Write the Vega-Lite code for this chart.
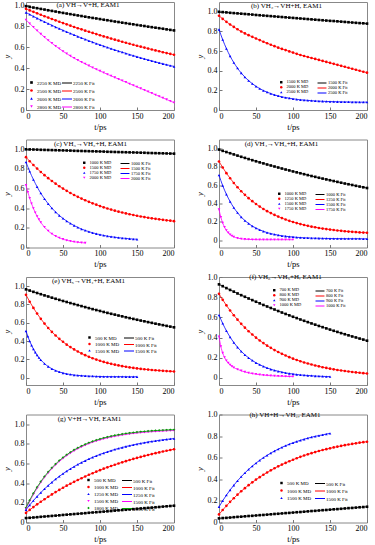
{
"$schema":"https://vega.github.io/schema/vega-lite/v6.json",
"background":"white",
"padding":{"left":1,"top":0,"right":1,"bottom":2},
"bounds":"flush",
"columns":2,
"spacing":{"row":29.5,"column":45},
"config":{
"font":"Liberation Serif",
"view":{"stroke":"#888","strokeWidth":1},
"axis":{"grid":false,"domain":false,"ticks":true,"tickSize":-3,"tickColor":"#777","labelFont":"Liberation Serif","labelFontSize":8,"labelColor":"#000","labelPadding":5,"titleFont":"Liberation Serif","titleFontSize":8.5,"titleFontWeight":"normal","titleColor":"#000"},
"axisX":{"titlePadding":2},
"axisY":{"titlePadding":3,"titleFontStyle":"italic"},
"legend":{"labelFont":"Liberation Serif","labelColor":"#000","padding":0,"labelOffset":3},
"title":{"font":"Liberation Serif","fontSize":7,"fontWeight":"normal","anchor":"middle","frame":"group","offset":-7,"color":"#000"}
},
"resolve":{"scale":{"x":"independent","y":"independent","color":"independent","shape":"independent","stroke":"independent"},"axis":{"x":"independent","y":"independent"},"legend":{"color":"independent","shape":"independent","stroke":"independent"}},
"datasets":{
"a":[
{"s":"2250","t":0,"y":0.990},{"s":"2250","t":5,"y":0.983},{"s":"2250","t":10,"y":0.977},{"s":"2250","t":15,"y":0.971},{"s":"2250","t":20,"y":0.964},{"s":"2250","t":25,"y":0.958},{"s":"2250","t":30,"y":0.951},{"s":"2250","t":35,"y":0.945},{"s":"2250","t":40,"y":0.939},{"s":"2250","t":45,"y":0.932},{"s":"2250","t":50,"y":0.926},{"s":"2250","t":55,"y":0.920},{"s":"2250","t":60,"y":0.914},{"s":"2250","t":65,"y":0.908},{"s":"2250","t":70,"y":0.902},{"s":"2250","t":75,"y":0.896},{"s":"2250","t":80,"y":0.890},{"s":"2250","t":85,"y":0.884},{"s":"2250","t":90,"y":0.878},{"s":"2250","t":95,"y":0.873},{"s":"2250","t":100,"y":0.867},{"s":"2250","t":105,"y":0.861},{"s":"2250","t":110,"y":0.856},{"s":"2250","t":115,"y":0.850},{"s":"2250","t":120,"y":0.844},{"s":"2250","t":125,"y":0.839},{"s":"2250","t":130,"y":0.833},{"s":"2250","t":135,"y":0.828},{"s":"2250","t":140,"y":0.822},{"s":"2250","t":145,"y":0.817},{"s":"2250","t":150,"y":0.811},{"s":"2250","t":155,"y":0.806},{"s":"2250","t":160,"y":0.801},{"s":"2250","t":165,"y":0.795},{"s":"2250","t":170,"y":0.790},{"s":"2250","t":175,"y":0.785},{"s":"2250","t":180,"y":0.780},{"s":"2250","t":185,"y":0.775},{"s":"2250","t":190,"y":0.769},{"s":"2250","t":195,"y":0.764},{"s":"2250","t":200,"y":0.759},
{"s":"2500","t":0,"y":0.965},{"s":"2500","t":5,"y":0.950},{"s":"2500","t":10,"y":0.936},{"s":"2500","t":15,"y":0.922},{"s":"2500","t":20,"y":0.908},{"s":"2500","t":25,"y":0.894},{"s":"2500","t":30,"y":0.881},{"s":"2500","t":35,"y":0.868},{"s":"2500","t":40,"y":0.855},{"s":"2500","t":45,"y":0.842},{"s":"2500","t":50,"y":0.829},{"s":"2500","t":55,"y":0.817},{"s":"2500","t":60,"y":0.804},{"s":"2500","t":65,"y":0.792},{"s":"2500","t":70,"y":0.780},{"s":"2500","t":75,"y":0.769},{"s":"2500","t":80,"y":0.757},{"s":"2500","t":85,"y":0.746},{"s":"2500","t":90,"y":0.735},{"s":"2500","t":95,"y":0.724},{"s":"2500","t":100,"y":0.713},{"s":"2500","t":105,"y":0.702},{"s":"2500","t":110,"y":0.692},{"s":"2500","t":115,"y":0.681},{"s":"2500","t":120,"y":0.671},{"s":"2500","t":125,"y":0.661},{"s":"2500","t":130,"y":0.651},{"s":"2500","t":135,"y":0.641},{"s":"2500","t":140,"y":0.632},{"s":"2500","t":145,"y":0.622},{"s":"2500","t":150,"y":0.613},{"s":"2500","t":155,"y":0.604},{"s":"2500","t":160,"y":0.595},{"s":"2500","t":165,"y":0.586},{"s":"2500","t":170,"y":0.577},{"s":"2500","t":175,"y":0.568},{"s":"2500","t":180,"y":0.560},{"s":"2500","t":185,"y":0.551},{"s":"2500","t":190,"y":0.543},{"s":"2500","t":195,"y":0.535},{"s":"2500","t":200,"y":0.527},
{"s":"2600","t":0,"y":0.930},{"s":"2600","t":5,"y":0.911},{"s":"2600","t":10,"y":0.893},{"s":"2600","t":15,"y":0.875},{"s":"2600","t":20,"y":0.858},{"s":"2600","t":25,"y":0.841},{"s":"2600","t":30,"y":0.824},{"s":"2600","t":35,"y":0.808},{"s":"2600","t":40,"y":0.791},{"s":"2600","t":45,"y":0.776},{"s":"2600","t":50,"y":0.760},{"s":"2600","t":55,"y":0.745},{"s":"2600","t":60,"y":0.730},{"s":"2600","t":65,"y":0.716},{"s":"2600","t":70,"y":0.701},{"s":"2600","t":75,"y":0.687},{"s":"2600","t":80,"y":0.674},{"s":"2600","t":85,"y":0.660},{"s":"2600","t":90,"y":0.647},{"s":"2600","t":95,"y":0.634},{"s":"2600","t":100,"y":0.622},{"s":"2600","t":105,"y":0.609},{"s":"2600","t":110,"y":0.597},{"s":"2600","t":115,"y":0.585},{"s":"2600","t":120,"y":0.573},{"s":"2600","t":125,"y":0.562},{"s":"2600","t":130,"y":0.551},{"s":"2600","t":135,"y":0.540},{"s":"2600","t":140,"y":0.529},{"s":"2600","t":145,"y":0.519},{"s":"2600","t":150,"y":0.508},{"s":"2600","t":155,"y":0.498},{"s":"2600","t":160,"y":0.488},{"s":"2600","t":165,"y":0.478},{"s":"2600","t":170,"y":0.469},{"s":"2600","t":175,"y":0.459},{"s":"2600","t":180,"y":0.450},{"s":"2600","t":185,"y":0.441},{"s":"2600","t":190,"y":0.432},{"s":"2600","t":195,"y":0.424},{"s":"2600","t":200,"y":0.415},
{"s":"2800","t":0,"y":0.860},{"s":"2800","t":5,"y":0.824},{"s":"2800","t":10,"y":0.790},{"s":"2800","t":15,"y":0.757},{"s":"2800","t":20,"y":0.725},{"s":"2800","t":25,"y":0.695},{"s":"2800","t":30,"y":0.665},{"s":"2800","t":35,"y":0.637},{"s":"2800","t":40,"y":0.610},{"s":"2800","t":45,"y":0.585},{"s":"2800","t":50,"y":0.560},{"s":"2800","t":55,"y":0.537},{"s":"2800","t":60,"y":0.515},{"s":"2800","t":65,"y":0.495},{"s":"2800","t":70,"y":0.475},{"s":"2800","t":75,"y":0.457},{"s":"2800","t":80,"y":0.440},{"s":"2800","t":85,"y":0.422},{"s":"2800","t":90,"y":0.405},{"s":"2800","t":95,"y":0.388},{"s":"2800","t":100,"y":0.372},{"s":"2800","t":105,"y":0.356},{"s":"2800","t":110,"y":0.340},{"s":"2800","t":115,"y":0.325},{"s":"2800","t":120,"y":0.310},{"s":"2800","t":125,"y":0.295},{"s":"2800","t":130,"y":0.280},{"s":"2800","t":135,"y":0.265},{"s":"2800","t":140,"y":0.250},{"s":"2800","t":145,"y":0.235},{"s":"2800","t":150,"y":0.220},{"s":"2800","t":155,"y":0.205},{"s":"2800","t":160,"y":0.190},{"s":"2800","t":165,"y":0.175},{"s":"2800","t":170,"y":0.160},{"s":"2800","t":175,"y":0.145},{"s":"2800","t":180,"y":0.130},{"s":"2800","t":185,"y":0.115},{"s":"2800","t":190,"y":0.100},{"s":"2800","t":195,"y":0.085},{"s":"2800","t":200,"y":0.070}
],
"b":[
{"s":"1500","t":0,"y":1.000},{"s":"1500","t":5,"y":0.997},{"s":"1500","t":10,"y":0.994},{"s":"1500","t":15,"y":0.990},{"s":"1500","t":20,"y":0.987},{"s":"1500","t":25,"y":0.984},{"s":"1500","t":30,"y":0.981},{"s":"1500","t":35,"y":0.978},{"s":"1500","t":40,"y":0.975},{"s":"1500","t":45,"y":0.972},{"s":"1500","t":50,"y":0.968},{"s":"1500","t":55,"y":0.965},{"s":"1500","t":60,"y":0.962},{"s":"1500","t":65,"y":0.959},{"s":"1500","t":70,"y":0.956},{"s":"1500","t":75,"y":0.953},{"s":"1500","t":80,"y":0.950},{"s":"1500","t":85,"y":0.947},{"s":"1500","t":90,"y":0.944},{"s":"1500","t":95,"y":0.941},{"s":"1500","t":100,"y":0.938},{"s":"1500","t":105,"y":0.935},{"s":"1500","t":110,"y":0.932},{"s":"1500","t":115,"y":0.929},{"s":"1500","t":120,"y":0.926},{"s":"1500","t":125,"y":0.923},{"s":"1500","t":130,"y":0.920},{"s":"1500","t":135,"y":0.917},{"s":"1500","t":140,"y":0.914},{"s":"1500","t":145,"y":0.911},{"s":"1500","t":150,"y":0.908},{"s":"1500","t":155,"y":0.906},{"s":"1500","t":160,"y":0.903},{"s":"1500","t":165,"y":0.900},{"s":"1500","t":170,"y":0.897},{"s":"1500","t":175,"y":0.894},{"s":"1500","t":180,"y":0.891},{"s":"1500","t":185,"y":0.888},{"s":"1500","t":190,"y":0.885},{"s":"1500","t":195,"y":0.883},{"s":"1500","t":200,"y":0.880},
{"s":"2000","t":0,"y":0.960},{"s":"2000","t":5,"y":0.928},{"s":"2000","t":10,"y":0.898},{"s":"2000","t":15,"y":0.871},{"s":"2000","t":20,"y":0.846},{"s":"2000","t":25,"y":0.822},{"s":"2000","t":30,"y":0.800},{"s":"2000","t":35,"y":0.780},{"s":"2000","t":40,"y":0.762},{"s":"2000","t":45,"y":0.745},{"s":"2000","t":50,"y":0.728},{"s":"2000","t":55,"y":0.712},{"s":"2000","t":60,"y":0.695},{"s":"2000","t":65,"y":0.680},{"s":"2000","t":70,"y":0.665},{"s":"2000","t":75,"y":0.650},{"s":"2000","t":80,"y":0.635},{"s":"2000","t":85,"y":0.622},{"s":"2000","t":90,"y":0.610},{"s":"2000","t":95,"y":0.597},{"s":"2000","t":100,"y":0.585},{"s":"2000","t":105,"y":0.572},{"s":"2000","t":110,"y":0.560},{"s":"2000","t":115,"y":0.550},{"s":"2000","t":120,"y":0.540},{"s":"2000","t":125,"y":0.530},{"s":"2000","t":130,"y":0.520},{"s":"2000","t":135,"y":0.510},{"s":"2000","t":140,"y":0.500},{"s":"2000","t":145,"y":0.490},{"s":"2000","t":150,"y":0.480},{"s":"2000","t":155,"y":0.470},{"s":"2000","t":160,"y":0.460},{"s":"2000","t":165,"y":0.450},{"s":"2000","t":170,"y":0.440},{"s":"2000","t":175,"y":0.430},{"s":"2000","t":180,"y":0.420},{"s":"2000","t":185,"y":0.410},{"s":"2000","t":190,"y":0.400},{"s":"2000","t":195,"y":0.390},{"s":"2000","t":200,"y":0.380},
{"s":"2500","t":0,"y":0.820},{"s":"2500","t":5,"y":0.716},{"s":"2500","t":10,"y":0.626},{"s":"2500","t":15,"y":0.549},{"s":"2500","t":20,"y":0.483},{"s":"2500","t":25,"y":0.426},{"s":"2500","t":30,"y":0.377},{"s":"2500","t":35,"y":0.335},{"s":"2500","t":40,"y":0.299},{"s":"2500","t":45,"y":0.268},{"s":"2500","t":50,"y":0.241},{"s":"2500","t":55,"y":0.218},{"s":"2500","t":60,"y":0.198},{"s":"2500","t":65,"y":0.182},{"s":"2500","t":70,"y":0.167},{"s":"2500","t":75,"y":0.154},{"s":"2500","t":80,"y":0.144},{"s":"2500","t":85,"y":0.134},{"s":"2500","t":90,"y":0.127},{"s":"2500","t":95,"y":0.120},{"s":"2500","t":100,"y":0.114},{"s":"2500","t":105,"y":0.109},{"s":"2500","t":110,"y":0.104},{"s":"2500","t":115,"y":0.101},{"s":"2500","t":120,"y":0.098},{"s":"2500","t":125,"y":0.095},{"s":"2500","t":130,"y":0.092},{"s":"2500","t":135,"y":0.090},{"s":"2500","t":140,"y":0.089},{"s":"2500","t":145,"y":0.087},{"s":"2500","t":150,"y":0.086},{"s":"2500","t":155,"y":0.085},{"s":"2500","t":160,"y":0.084},{"s":"2500","t":165,"y":0.083},{"s":"2500","t":170,"y":0.082},{"s":"2500","t":175,"y":0.082},{"s":"2500","t":180,"y":0.081},{"s":"2500","t":185,"y":0.081},{"s":"2500","t":190,"y":0.080},{"s":"2500","t":195,"y":0.080},{"s":"2500","t":200,"y":0.080}
],
"c":[
{"s":"1000","t":0,"y":1.000},{"s":"1000","t":5,"y":0.999},{"s":"1000","t":10,"y":0.998},{"s":"1000","t":15,"y":0.997},{"s":"1000","t":20,"y":0.995},{"s":"1000","t":25,"y":0.994},{"s":"1000","t":30,"y":0.993},{"s":"1000","t":35,"y":0.992},{"s":"1000","t":40,"y":0.991},{"s":"1000","t":45,"y":0.990},{"s":"1000","t":50,"y":0.989},{"s":"1000","t":55,"y":0.988},{"s":"1000","t":60,"y":0.987},{"s":"1000","t":65,"y":0.985},{"s":"1000","t":70,"y":0.984},{"s":"1000","t":75,"y":0.983},{"s":"1000","t":80,"y":0.982},{"s":"1000","t":85,"y":0.981},{"s":"1000","t":90,"y":0.980},{"s":"1000","t":95,"y":0.979},{"s":"1000","t":100,"y":0.978},{"s":"1000","t":105,"y":0.977},{"s":"1000","t":110,"y":0.975},{"s":"1000","t":115,"y":0.974},{"s":"1000","t":120,"y":0.973},{"s":"1000","t":125,"y":0.972},{"s":"1000","t":130,"y":0.971},{"s":"1000","t":135,"y":0.970},{"s":"1000","t":140,"y":0.969},{"s":"1000","t":145,"y":0.968},{"s":"1000","t":150,"y":0.967},{"s":"1000","t":155,"y":0.966},{"s":"1000","t":160,"y":0.965},{"s":"1000","t":165,"y":0.963},{"s":"1000","t":170,"y":0.962},{"s":"1000","t":175,"y":0.961},{"s":"1000","t":180,"y":0.960},{"s":"1000","t":185,"y":0.959},{"s":"1000","t":190,"y":0.958},{"s":"1000","t":195,"y":0.957},{"s":"1000","t":200,"y":0.956},
{"s":"1500","t":0,"y":0.920},{"s":"1500","t":5,"y":0.879},{"s":"1500","t":10,"y":0.840},{"s":"1500","t":15,"y":0.804},{"s":"1500","t":20,"y":0.769},{"s":"1500","t":25,"y":0.737},{"s":"1500","t":30,"y":0.706},{"s":"1500","t":35,"y":0.677},{"s":"1500","t":40,"y":0.650},{"s":"1500","t":45,"y":0.624},{"s":"1500","t":50,"y":0.600},{"s":"1500","t":55,"y":0.577},{"s":"1500","t":60,"y":0.555},{"s":"1500","t":65,"y":0.535},{"s":"1500","t":70,"y":0.516},{"s":"1500","t":75,"y":0.498},{"s":"1500","t":80,"y":0.481},{"s":"1500","t":85,"y":0.465},{"s":"1500","t":90,"y":0.450},{"s":"1500","t":95,"y":0.436},{"s":"1500","t":100,"y":0.422},{"s":"1500","t":105,"y":0.409},{"s":"1500","t":110,"y":0.397},{"s":"1500","t":115,"y":0.386},{"s":"1500","t":120,"y":0.375},{"s":"1500","t":125,"y":0.365},{"s":"1500","t":130,"y":0.356},{"s":"1500","t":135,"y":0.347},{"s":"1500","t":140,"y":0.339},{"s":"1500","t":145,"y":0.331},{"s":"1500","t":150,"y":0.323},{"s":"1500","t":155,"y":0.316},{"s":"1500","t":160,"y":0.310},{"s":"1500","t":165,"y":0.303},{"s":"1500","t":170,"y":0.297},{"s":"1500","t":175,"y":0.292},{"s":"1500","t":180,"y":0.287},{"s":"1500","t":185,"y":0.282},{"s":"1500","t":190,"y":0.277},{"s":"1500","t":195,"y":0.273},{"s":"1500","t":200,"y":0.268},
{"s":"1750","t":0,"y":0.870},{"s":"1750","t":5,"y":0.775},{"s":"1750","t":10,"y":0.692},{"s":"1750","t":15,"y":0.618},{"s":"1750","t":20,"y":0.553},{"s":"1750","t":25,"y":0.496},{"s":"1750","t":30,"y":0.445},{"s":"1750","t":35,"y":0.401},{"s":"1750","t":40,"y":0.361},{"s":"1750","t":45,"y":0.326},{"s":"1750","t":50,"y":0.296},{"s":"1750","t":55,"y":0.269},{"s":"1750","t":60,"y":0.245},{"s":"1750","t":65,"y":0.224},{"s":"1750","t":70,"y":0.205},{"s":"1750","t":75,"y":0.188},{"s":"1750","t":80,"y":0.174},{"s":"1750","t":85,"y":0.161},{"s":"1750","t":90,"y":0.150},{"s":"1750","t":95,"y":0.140},{"s":"1750","t":100,"y":0.131},{"s":"1750","t":105,"y":0.123},{"s":"1750","t":110,"y":0.116},{"s":"1750","t":115,"y":0.110},{"s":"1750","t":120,"y":0.105},{"s":"1750","t":125,"y":0.100},{"s":"1750","t":130,"y":0.096},{"s":"1750","t":135,"y":0.093},{"s":"1750","t":140,"y":0.089},{"s":"1750","t":145,"y":0.086},{"s":"1750","t":150,"y":0.084},
{"s":"2000","t":0,"y":0.635},{"s":"2000","t":2.5,"y":0.565},{"s":"2000","t":5,"y":0.502},{"s":"2000","t":7.5,"y":0.447},{"s":"2000","t":10,"y":0.399},{"s":"2000","t":12.5,"y":0.356},{"s":"2000","t":15,"y":0.318},{"s":"2000","t":17.5,"y":0.285},{"s":"2000","t":20,"y":0.256},{"s":"2000","t":25,"y":0.207},{"s":"2000","t":30,"y":0.169},{"s":"2000","t":35,"y":0.139},{"s":"2000","t":40,"y":0.116},{"s":"2000","t":45,"y":0.098},{"s":"2000","t":50,"y":0.084},{"s":"2000","t":55,"y":0.073},{"s":"2000","t":60,"y":0.065},{"s":"2000","t":65,"y":0.058},{"s":"2000","t":70,"y":0.053},{"s":"2000","t":75,"y":0.049},{"s":"2000","t":80,"y":0.046}
],
"d":[
{"s":"1000","t":0,"y":0.990},{"s":"1000","t":5,"y":0.976},{"s":"1000","t":10,"y":0.963},{"s":"1000","t":15,"y":0.950},{"s":"1000","t":20,"y":0.937},{"s":"1000","t":25,"y":0.924},{"s":"1000","t":30,"y":0.911},{"s":"1000","t":35,"y":0.899},{"s":"1000","t":40,"y":0.886},{"s":"1000","t":45,"y":0.874},{"s":"1000","t":50,"y":0.862},{"s":"1000","t":55,"y":0.850},{"s":"1000","t":60,"y":0.839},{"s":"1000","t":65,"y":0.827},{"s":"1000","t":70,"y":0.816},{"s":"1000","t":75,"y":0.805},{"s":"1000","t":80,"y":0.794},{"s":"1000","t":85,"y":0.783},{"s":"1000","t":90,"y":0.772},{"s":"1000","t":95,"y":0.762},{"s":"1000","t":100,"y":0.751},{"s":"1000","t":105,"y":0.741},{"s":"1000","t":110,"y":0.731},{"s":"1000","t":115,"y":0.721},{"s":"1000","t":120,"y":0.711},{"s":"1000","t":125,"y":0.701},{"s":"1000","t":130,"y":0.692},{"s":"1000","t":135,"y":0.682},{"s":"1000","t":140,"y":0.673},{"s":"1000","t":145,"y":0.664},{"s":"1000","t":150,"y":0.655},{"s":"1000","t":155,"y":0.646},{"s":"1000","t":160,"y":0.637},{"s":"1000","t":165,"y":0.628},{"s":"1000","t":170,"y":0.619},{"s":"1000","t":175,"y":0.611},{"s":"1000","t":180,"y":0.603},{"s":"1000","t":185,"y":0.594},{"s":"1000","t":190,"y":0.586},{"s":"1000","t":195,"y":0.578},{"s":"1000","t":200,"y":0.570},
{"s":"1250","t":0,"y":0.860},{"s":"1250","t":5,"y":0.794},{"s":"1250","t":10,"y":0.732},{"s":"1250","t":15,"y":0.677},{"s":"1250","t":20,"y":0.625},{"s":"1250","t":25,"y":0.578},{"s":"1250","t":30,"y":0.535},{"s":"1250","t":35,"y":0.495},{"s":"1250","t":40,"y":0.459},{"s":"1250","t":45,"y":0.426},{"s":"1250","t":50,"y":0.395},{"s":"1250","t":55,"y":0.367},{"s":"1250","t":60,"y":0.341},{"s":"1250","t":65,"y":0.317},{"s":"1250","t":70,"y":0.296},{"s":"1250","t":75,"y":0.276},{"s":"1250","t":80,"y":0.258},{"s":"1250","t":85,"y":0.241},{"s":"1250","t":90,"y":0.226},{"s":"1250","t":95,"y":0.211},{"s":"1250","t":100,"y":0.199},{"s":"1250","t":105,"y":0.187},{"s":"1250","t":110,"y":0.176},{"s":"1250","t":115,"y":0.166},{"s":"1250","t":120,"y":0.157},{"s":"1250","t":125,"y":0.148},{"s":"1250","t":130,"y":0.141},{"s":"1250","t":135,"y":0.133},{"s":"1250","t":140,"y":0.127},{"s":"1250","t":145,"y":0.121},{"s":"1250","t":150,"y":0.116},{"s":"1250","t":155,"y":0.111},{"s":"1250","t":160,"y":0.106},{"s":"1250","t":165,"y":0.102},{"s":"1250","t":170,"y":0.098},{"s":"1250","t":175,"y":0.094},{"s":"1250","t":180,"y":0.091},{"s":"1250","t":185,"y":0.088},{"s":"1250","t":190,"y":0.085},{"s":"1250","t":195,"y":0.083},{"s":"1250","t":200,"y":0.081},
{"s":"1500","t":0,"y":0.710},{"s":"1500","t":5,"y":0.596},{"s":"1500","t":10,"y":0.501},{"s":"1500","t":15,"y":0.422},{"s":"1500","t":20,"y":0.355},{"s":"1500","t":25,"y":0.300},{"s":"1500","t":30,"y":0.253},{"s":"1500","t":35,"y":0.214},{"s":"1500","t":40,"y":0.182},{"s":"1500","t":45,"y":0.154},{"s":"1500","t":50,"y":0.132},{"s":"1500","t":55,"y":0.113},{"s":"1500","t":60,"y":0.097},{"s":"1500","t":65,"y":0.083},{"s":"1500","t":70,"y":0.072},{"s":"1500","t":75,"y":0.063},{"s":"1500","t":80,"y":0.055},{"s":"1500","t":85,"y":0.048},{"s":"1500","t":90,"y":0.043},{"s":"1500","t":95,"y":0.038},{"s":"1500","t":100,"y":0.035},{"s":"1500","t":105,"y":0.031},{"s":"1500","t":110,"y":0.029},{"s":"1500","t":115,"y":0.026},{"s":"1500","t":120,"y":0.025},{"s":"1500","t":125,"y":0.023},{"s":"1500","t":130,"y":0.022},{"s":"1500","t":135,"y":0.021},{"s":"1500","t":140,"y":0.020},{"s":"1500","t":145,"y":0.019},{"s":"1500","t":150,"y":0.018},{"s":"1500","t":155,"y":0.018},{"s":"1500","t":160,"y":0.017},{"s":"1500","t":165,"y":0.017},{"s":"1500","t":170,"y":0.016},{"s":"1500","t":175,"y":0.016},{"s":"1500","t":180,"y":0.016},{"s":"1500","t":185,"y":0.016},{"s":"1500","t":190,"y":0.016},{"s":"1500","t":195,"y":0.015},{"s":"1500","t":200,"y":0.015},
{"s":"1750","t":0,"y":0.335},{"s":"1750","t":2.5,"y":0.251},{"s":"1750","t":5,"y":0.188},{"s":"1750","t":7.5,"y":0.142},{"s":"1750","t":10,"y":0.107},{"s":"1750","t":12.5,"y":0.081},{"s":"1750","t":15,"y":0.061},{"s":"1750","t":17.5,"y":0.047},{"s":"1750","t":20,"y":0.036},{"s":"1750","t":25,"y":0.022},{"s":"1750","t":30,"y":0.015},{"s":"1750","t":35,"y":0.010},{"s":"1750","t":40,"y":0.008},{"s":"1750","t":45,"y":0.007},{"s":"1750","t":50,"y":0.006},{"s":"1750","t":55,"y":0.005},{"s":"1750","t":60,"y":0.005},{"s":"1750","t":65,"y":0.005},{"s":"1750","t":70,"y":0.005},{"s":"1750","t":75,"y":0.005},{"s":"1750","t":80,"y":0.005},{"s":"1750","t":85,"y":0.005},{"s":"1750","t":90,"y":0.005},{"s":"1750","t":95,"y":0.005},{"s":"1750","t":100,"y":0.005}
],
"e":[
{"s":"500","t":0,"y":0.965},{"s":"500","t":5,"y":0.952},{"s":"500","t":10,"y":0.938},{"s":"500","t":15,"y":0.925},{"s":"500","t":20,"y":0.912},{"s":"500","t":25,"y":0.899},{"s":"500","t":30,"y":0.887},{"s":"500","t":35,"y":0.874},{"s":"500","t":40,"y":0.862},{"s":"500","t":45,"y":0.850},{"s":"500","t":50,"y":0.838},{"s":"500","t":55,"y":0.827},{"s":"500","t":60,"y":0.815},{"s":"500","t":65,"y":0.804},{"s":"500","t":70,"y":0.793},{"s":"500","t":75,"y":0.782},{"s":"500","t":80,"y":0.771},{"s":"500","t":85,"y":0.760},{"s":"500","t":90,"y":0.749},{"s":"500","t":95,"y":0.739},{"s":"500","t":100,"y":0.729},{"s":"500","t":105,"y":0.718},{"s":"500","t":110,"y":0.708},{"s":"500","t":115,"y":0.698},{"s":"500","t":120,"y":0.689},{"s":"500","t":125,"y":0.679},{"s":"500","t":130,"y":0.670},{"s":"500","t":135,"y":0.660},{"s":"500","t":140,"y":0.651},{"s":"500","t":145,"y":0.642},{"s":"500","t":150,"y":0.633},{"s":"500","t":155,"y":0.624},{"s":"500","t":160,"y":0.616},{"s":"500","t":165,"y":0.607},{"s":"500","t":170,"y":0.599},{"s":"500","t":175,"y":0.590},{"s":"500","t":180,"y":0.582},{"s":"500","t":185,"y":0.574},{"s":"500","t":190,"y":0.566},{"s":"500","t":195,"y":0.558},{"s":"500","t":200,"y":0.550},
{"s":"1000","t":0,"y":0.905},{"s":"1000","t":5,"y":0.830},{"s":"1000","t":10,"y":0.762},{"s":"1000","t":15,"y":0.700},{"s":"1000","t":20,"y":0.643},{"s":"1000","t":25,"y":0.591},{"s":"1000","t":30,"y":0.543},{"s":"1000","t":35,"y":0.500},{"s":"1000","t":40,"y":0.461},{"s":"1000","t":45,"y":0.424},{"s":"1000","t":50,"y":0.392},{"s":"1000","t":55,"y":0.361},{"s":"1000","t":60,"y":0.334},{"s":"1000","t":65,"y":0.309},{"s":"1000","t":70,"y":0.286},{"s":"1000","t":75,"y":0.265},{"s":"1000","t":80,"y":0.246},{"s":"1000","t":85,"y":0.228},{"s":"1000","t":90,"y":0.212},{"s":"1000","t":95,"y":0.198},{"s":"1000","t":100,"y":0.185},{"s":"1000","t":105,"y":0.172},{"s":"1000","t":110,"y":0.161},{"s":"1000","t":115,"y":0.151},{"s":"1000","t":120,"y":0.142},{"s":"1000","t":125,"y":0.134},{"s":"1000","t":130,"y":0.126},{"s":"1000","t":135,"y":0.119},{"s":"1000","t":140,"y":0.112},{"s":"1000","t":145,"y":0.107},{"s":"1000","t":150,"y":0.101},{"s":"1000","t":155,"y":0.096},{"s":"1000","t":160,"y":0.092},{"s":"1000","t":165,"y":0.088},{"s":"1000","t":170,"y":0.084},{"s":"1000","t":175,"y":0.081},{"s":"1000","t":180,"y":0.078},{"s":"1000","t":185,"y":0.075},{"s":"1000","t":190,"y":0.072},{"s":"1000","t":195,"y":0.070},{"s":"1000","t":200,"y":0.068},
{"s":"1500","t":0,"y":0.510},{"s":"1500","t":2.5,"y":0.451},{"s":"1500","t":5,"y":0.399},{"s":"1500","t":7.5,"y":0.354},{"s":"1500","t":10,"y":0.313},{"s":"1500","t":12.5,"y":0.278},{"s":"1500","t":15,"y":0.246},{"s":"1500","t":17.5,"y":0.218},{"s":"1500","t":20,"y":0.194},{"s":"1500","t":25,"y":0.153},{"s":"1500","t":30,"y":0.122},{"s":"1500","t":35,"y":0.097},{"s":"1500","t":40,"y":0.078},{"s":"1500","t":45,"y":0.063},{"s":"1500","t":50,"y":0.051},{"s":"1500","t":55,"y":0.042},{"s":"1500","t":60,"y":0.035},{"s":"1500","t":65,"y":0.029},{"s":"1500","t":70,"y":0.025},{"s":"1500","t":75,"y":0.022},{"s":"1500","t":80,"y":0.019},{"s":"1500","t":85,"y":0.017},{"s":"1500","t":90,"y":0.016},{"s":"1500","t":95,"y":0.014},{"s":"1500","t":100,"y":0.013},{"s":"1500","t":105,"y":0.012},{"s":"1500","t":110,"y":0.012},{"s":"1500","t":115,"y":0.011},{"s":"1500","t":120,"y":0.011},{"s":"1500","t":125,"y":0.011},{"s":"1500","t":130,"y":0.011},{"s":"1500","t":135,"y":0.010},{"s":"1500","t":140,"y":0.010},{"s":"1500","t":145,"y":0.010},{"s":"1500","t":150,"y":0.010}
],
"f":[
{"s":"700","t":0,"y":0.927},{"s":"700","t":5,"y":0.909},{"s":"700","t":10,"y":0.890},{"s":"700","t":15,"y":0.872},{"s":"700","t":20,"y":0.855},{"s":"700","t":25,"y":0.837},{"s":"700","t":30,"y":0.820},{"s":"700","t":35,"y":0.804},{"s":"700","t":40,"y":0.787},{"s":"700","t":45,"y":0.771},{"s":"700","t":50,"y":0.755},{"s":"700","t":55,"y":0.739},{"s":"700","t":60,"y":0.723},{"s":"700","t":65,"y":0.708},{"s":"700","t":70,"y":0.693},{"s":"700","t":75,"y":0.678},{"s":"700","t":80,"y":0.663},{"s":"700","t":85,"y":0.648},{"s":"700","t":90,"y":0.634},{"s":"700","t":95,"y":0.620},{"s":"700","t":100,"y":0.606},{"s":"700","t":105,"y":0.593},{"s":"700","t":110,"y":0.579},{"s":"700","t":115,"y":0.566},{"s":"700","t":120,"y":0.553},{"s":"700","t":125,"y":0.540},{"s":"700","t":130,"y":0.528},{"s":"700","t":135,"y":0.515},{"s":"700","t":140,"y":0.503},{"s":"700","t":145,"y":0.491},{"s":"700","t":150,"y":0.479},{"s":"700","t":155,"y":0.467},{"s":"700","t":160,"y":0.456},{"s":"700","t":165,"y":0.444},{"s":"700","t":170,"y":0.433},{"s":"700","t":175,"y":0.422},{"s":"700","t":180,"y":0.411},{"s":"700","t":185,"y":0.401},{"s":"700","t":190,"y":0.390},{"s":"700","t":195,"y":0.380},{"s":"700","t":200,"y":0.369},
{"s":"800","t":0,"y":0.833},{"s":"800","t":5,"y":0.774},{"s":"800","t":10,"y":0.719},{"s":"800","t":15,"y":0.668},{"s":"800","t":20,"y":0.621},{"s":"800","t":25,"y":0.577},{"s":"800","t":30,"y":0.536},{"s":"800","t":35,"y":0.498},{"s":"800","t":40,"y":0.463},{"s":"800","t":45,"y":0.430},{"s":"800","t":50,"y":0.399},{"s":"800","t":55,"y":0.371},{"s":"800","t":60,"y":0.345},{"s":"800","t":65,"y":0.320},{"s":"800","t":70,"y":0.298},{"s":"800","t":75,"y":0.276},{"s":"800","t":80,"y":0.257},{"s":"800","t":85,"y":0.239},{"s":"800","t":90,"y":0.222},{"s":"800","t":95,"y":0.206},{"s":"800","t":100,"y":0.191},{"s":"800","t":105,"y":0.178},{"s":"800","t":110,"y":0.165},{"s":"800","t":115,"y":0.153},{"s":"800","t":120,"y":0.143},{"s":"800","t":125,"y":0.133},{"s":"800","t":130,"y":0.123},{"s":"800","t":135,"y":0.115},{"s":"800","t":140,"y":0.106},{"s":"800","t":145,"y":0.099},{"s":"800","t":150,"y":0.092},{"s":"800","t":155,"y":0.085},{"s":"800","t":160,"y":0.079},{"s":"800","t":165,"y":0.074},{"s":"800","t":170,"y":0.069},{"s":"800","t":175,"y":0.064},{"s":"800","t":180,"y":0.059},{"s":"800","t":185,"y":0.055},{"s":"800","t":190,"y":0.051},{"s":"800","t":195,"y":0.047},{"s":"800","t":200,"y":0.044},
{"s":"900","t":0,"y":0.623},{"s":"900","t":5,"y":0.540},{"s":"900","t":10,"y":0.467},{"s":"900","t":15,"y":0.405},{"s":"900","t":20,"y":0.351},{"s":"900","t":25,"y":0.304},{"s":"900","t":30,"y":0.264},{"s":"900","t":35,"y":0.229},{"s":"900","t":40,"y":0.199},{"s":"900","t":45,"y":0.173},{"s":"900","t":50,"y":0.150},{"s":"900","t":55,"y":0.131},{"s":"900","t":60,"y":0.114},{"s":"900","t":65,"y":0.099},{"s":"900","t":70,"y":0.086},{"s":"900","t":75,"y":0.075},{"s":"900","t":80,"y":0.066},{"s":"900","t":85,"y":0.058},{"s":"900","t":90,"y":0.050},{"s":"900","t":95,"y":0.044},{"s":"900","t":100,"y":0.039},{"s":"900","t":105,"y":0.034},{"s":"900","t":110,"y":0.030},{"s":"900","t":115,"y":0.027},{"s":"900","t":120,"y":0.024},{"s":"900","t":125,"y":0.022},{"s":"900","t":130,"y":0.019},{"s":"900","t":135,"y":0.017},{"s":"900","t":140,"y":0.016},{"s":"900","t":145,"y":0.014},{"s":"900","t":150,"y":0.013},
{"s":"1000","t":0,"y":0.410},{"s":"1000","t":2.5,"y":0.312},{"s":"1000","t":5,"y":0.247},{"s":"1000","t":7.5,"y":0.203},{"s":"1000","t":10,"y":0.171},{"s":"1000","t":12.5,"y":0.148},{"s":"1000","t":15,"y":0.130},{"s":"1000","t":17.5,"y":0.115},{"s":"1000","t":20,"y":0.103},{"s":"1000","t":25,"y":0.085},{"s":"1000","t":30,"y":0.071},{"s":"1000","t":35,"y":0.059},{"s":"1000","t":40,"y":0.050},{"s":"1000","t":45,"y":0.043},{"s":"1000","t":50,"y":0.037},{"s":"1000","t":55,"y":0.032},{"s":"1000","t":60,"y":0.028},{"s":"1000","t":65,"y":0.025},{"s":"1000","t":70,"y":0.022},{"s":"1000","t":75,"y":0.020},{"s":"1000","t":80,"y":0.018},{"s":"1000","t":85,"y":0.017},{"s":"1000","t":90,"y":0.015},{"s":"1000","t":95,"y":0.014},{"s":"1000","t":100,"y":0.013}
],
"g":[
{"s":"500","t":0,"y":0.045},{"s":"500","t":5,"y":0.048},{"s":"500","t":10,"y":0.051},{"s":"500","t":15,"y":0.054},{"s":"500","t":20,"y":0.058},{"s":"500","t":25,"y":0.061},{"s":"500","t":30,"y":0.064},{"s":"500","t":35,"y":0.067},{"s":"500","t":40,"y":0.070},{"s":"500","t":45,"y":0.073},{"s":"500","t":50,"y":0.077},{"s":"500","t":55,"y":0.080},{"s":"500","t":60,"y":0.083},{"s":"500","t":65,"y":0.086},{"s":"500","t":70,"y":0.089},{"s":"500","t":75,"y":0.092},{"s":"500","t":80,"y":0.095},{"s":"500","t":85,"y":0.099},{"s":"500","t":90,"y":0.102},{"s":"500","t":95,"y":0.105},{"s":"500","t":100,"y":0.108},{"s":"500","t":105,"y":0.111},{"s":"500","t":110,"y":0.114},{"s":"500","t":115,"y":0.117},{"s":"500","t":120,"y":0.121},{"s":"500","t":125,"y":0.124},{"s":"500","t":130,"y":0.127},{"s":"500","t":135,"y":0.130},{"s":"500","t":140,"y":0.133},{"s":"500","t":145,"y":0.136},{"s":"500","t":150,"y":0.140},{"s":"500","t":155,"y":0.143},{"s":"500","t":160,"y":0.146},{"s":"500","t":165,"y":0.149},{"s":"500","t":170,"y":0.152},{"s":"500","t":175,"y":0.155},{"s":"500","t":180,"y":0.158},{"s":"500","t":185,"y":0.162},{"s":"500","t":190,"y":0.165},{"s":"500","t":195,"y":0.168},{"s":"500","t":200,"y":0.171},
{"s":"1000","t":0,"y":0.098},{"s":"1000","t":5,"y":0.128},{"s":"1000","t":10,"y":0.157},{"s":"1000","t":15,"y":0.185},{"s":"1000","t":20,"y":0.211},{"s":"1000","t":25,"y":0.237},{"s":"1000","t":30,"y":0.262},{"s":"1000","t":35,"y":0.286},{"s":"1000","t":40,"y":0.310},{"s":"1000","t":45,"y":0.332},{"s":"1000","t":50,"y":0.354},{"s":"1000","t":55,"y":0.375},{"s":"1000","t":60,"y":0.395},{"s":"1000","t":65,"y":0.414},{"s":"1000","t":70,"y":0.433},{"s":"1000","t":75,"y":0.451},{"s":"1000","t":80,"y":0.469},{"s":"1000","t":85,"y":0.486},{"s":"1000","t":90,"y":0.502},{"s":"1000","t":95,"y":0.518},{"s":"1000","t":100,"y":0.533},{"s":"1000","t":105,"y":0.548},{"s":"1000","t":110,"y":0.562},{"s":"1000","t":115,"y":0.575},{"s":"1000","t":120,"y":0.588},{"s":"1000","t":125,"y":0.601},{"s":"1000","t":130,"y":0.613},{"s":"1000","t":135,"y":0.625},{"s":"1000","t":140,"y":0.637},{"s":"1000","t":145,"y":0.648},{"s":"1000","t":150,"y":0.658},{"s":"1000","t":155,"y":0.668},{"s":"1000","t":160,"y":0.678},{"s":"1000","t":165,"y":0.688},{"s":"1000","t":170,"y":0.697},{"s":"1000","t":175,"y":0.706},{"s":"1000","t":180,"y":0.714},{"s":"1000","t":185,"y":0.723},{"s":"1000","t":190,"y":0.731},{"s":"1000","t":195,"y":0.738},{"s":"1000","t":200,"y":0.746},
{"s":"1250","t":0,"y":0.130},{"s":"1250","t":5,"y":0.178},{"s":"1250","t":10,"y":0.223},{"s":"1250","t":15,"y":0.265},{"s":"1250","t":20,"y":0.305},{"s":"1250","t":25,"y":0.342},{"s":"1250","t":30,"y":0.377},{"s":"1250","t":35,"y":0.410},{"s":"1250","t":40,"y":0.441},{"s":"1250","t":45,"y":0.470},{"s":"1250","t":50,"y":0.497},{"s":"1250","t":55,"y":0.523},{"s":"1250","t":60,"y":0.547},{"s":"1250","t":65,"y":0.569},{"s":"1250","t":70,"y":0.591},{"s":"1250","t":75,"y":0.611},{"s":"1250","t":80,"y":0.629},{"s":"1250","t":85,"y":0.647},{"s":"1250","t":90,"y":0.664},{"s":"1250","t":95,"y":0.679},{"s":"1250","t":100,"y":0.694},{"s":"1250","t":105,"y":0.707},{"s":"1250","t":110,"y":0.720},{"s":"1250","t":115,"y":0.732},{"s":"1250","t":120,"y":0.744},{"s":"1250","t":125,"y":0.754},{"s":"1250","t":130,"y":0.764},{"s":"1250","t":135,"y":0.774},{"s":"1250","t":140,"y":0.783},{"s":"1250","t":145,"y":0.791},{"s":"1250","t":150,"y":0.799},{"s":"1250","t":155,"y":0.806},{"s":"1250","t":160,"y":0.813},{"s":"1250","t":165,"y":0.820},{"s":"1250","t":170,"y":0.826},{"s":"1250","t":175,"y":0.831},{"s":"1250","t":180,"y":0.837},{"s":"1250","t":185,"y":0.842},{"s":"1250","t":190,"y":0.847},{"s":"1250","t":195,"y":0.851},{"s":"1250","t":200,"y":0.855},
{"s":"1500","t":0,"y":0.140},{"s":"1500","t":5,"y":0.217},{"s":"1500","t":10,"y":0.287},{"s":"1500","t":15,"y":0.350},{"s":"1500","t":20,"y":0.408},{"s":"1500","t":25,"y":0.460},{"s":"1500","t":30,"y":0.506},{"s":"1500","t":35,"y":0.549},{"s":"1500","t":40,"y":0.587},{"s":"1500","t":45,"y":0.622},{"s":"1500","t":50,"y":0.653},{"s":"1500","t":55,"y":0.682},{"s":"1500","t":60,"y":0.707},{"s":"1500","t":65,"y":0.731},{"s":"1500","t":70,"y":0.752},{"s":"1500","t":75,"y":0.771},{"s":"1500","t":80,"y":0.788},{"s":"1500","t":85,"y":0.804},{"s":"1500","t":90,"y":0.818},{"s":"1500","t":95,"y":0.831},{"s":"1500","t":100,"y":0.842},{"s":"1500","t":105,"y":0.853},{"s":"1500","t":110,"y":0.862},{"s":"1500","t":115,"y":0.871},{"s":"1500","t":120,"y":0.878},{"s":"1500","t":125,"y":0.885},{"s":"1500","t":130,"y":0.892},{"s":"1500","t":135,"y":0.897},{"s":"1500","t":140,"y":0.903},{"s":"1500","t":145,"y":0.907},{"s":"1500","t":150,"y":0.912},{"s":"1500","t":155,"y":0.915},{"s":"1500","t":160,"y":0.919},{"s":"1500","t":165,"y":0.922},{"s":"1500","t":170,"y":0.925},{"s":"1500","t":175,"y":0.927},{"s":"1500","t":180,"y":0.930},{"s":"1500","t":185,"y":0.932},{"s":"1500","t":190,"y":0.934},{"s":"1500","t":195,"y":0.936},{"s":"1500","t":200,"y":0.937},
{"s":"1800","t":0,"y":0.150},{"s":"1800","t":5,"y":0.227},{"s":"1800","t":10,"y":0.297},{"s":"1800","t":15,"y":0.360},{"s":"1800","t":20,"y":0.417},{"s":"1800","t":25,"y":0.469},{"s":"1800","t":30,"y":0.515},{"s":"1800","t":35,"y":0.558},{"s":"1800","t":40,"y":0.596},{"s":"1800","t":45,"y":0.631},{"s":"1800","t":50,"y":0.662},{"s":"1800","t":55,"y":0.690},{"s":"1800","t":60,"y":0.716},{"s":"1800","t":65,"y":0.739},{"s":"1800","t":70,"y":0.760},{"s":"1800","t":75,"y":0.779},{"s":"1800","t":80,"y":0.796},{"s":"1800","t":85,"y":0.812},{"s":"1800","t":90,"y":0.826},{"s":"1800","t":95,"y":0.839},{"s":"1800","t":100,"y":0.850},{"s":"1800","t":105,"y":0.861},{"s":"1800","t":110,"y":0.870},{"s":"1800","t":115,"y":0.879},{"s":"1800","t":120,"y":0.887},{"s":"1800","t":125,"y":0.893},{"s":"1800","t":130,"y":0.900},{"s":"1800","t":135,"y":0.906},{"s":"1800","t":140,"y":0.911},{"s":"1800","t":145,"y":0.915},{"s":"1800","t":150,"y":0.920},{"s":"1800","t":155,"y":0.924},{"s":"1800","t":160,"y":0.927},{"s":"1800","t":165,"y":0.930},{"s":"1800","t":170,"y":0.933},{"s":"1800","t":175,"y":0.936},{"s":"1800","t":180,"y":0.938},{"s":"1800","t":185,"y":0.940},{"s":"1800","t":190,"y":0.942},{"s":"1800","t":195,"y":0.944},{"s":"1800","t":200,"y":0.945}
],
"h":[
{"s":"500","t":0,"y":0.038},{"s":"500","t":5,"y":0.041},{"s":"500","t":10,"y":0.043},{"s":"500","t":15,"y":0.046},{"s":"500","t":20,"y":0.049},{"s":"500","t":25,"y":0.052},{"s":"500","t":30,"y":0.054},{"s":"500","t":35,"y":0.057},{"s":"500","t":40,"y":0.060},{"s":"500","t":45,"y":0.062},{"s":"500","t":50,"y":0.065},{"s":"500","t":55,"y":0.068},{"s":"500","t":60,"y":0.070},{"s":"500","t":65,"y":0.073},{"s":"500","t":70,"y":0.076},{"s":"500","t":75,"y":0.079},{"s":"500","t":80,"y":0.081},{"s":"500","t":85,"y":0.084},{"s":"500","t":90,"y":0.087},{"s":"500","t":95,"y":0.089},{"s":"500","t":100,"y":0.092},{"s":"500","t":105,"y":0.095},{"s":"500","t":110,"y":0.097},{"s":"500","t":115,"y":0.100},{"s":"500","t":120,"y":0.103},{"s":"500","t":125,"y":0.106},{"s":"500","t":130,"y":0.108},{"s":"500","t":135,"y":0.111},{"s":"500","t":140,"y":0.114},{"s":"500","t":145,"y":0.116},{"s":"500","t":150,"y":0.119},{"s":"500","t":155,"y":0.122},{"s":"500","t":160,"y":0.124},{"s":"500","t":165,"y":0.127},{"s":"500","t":170,"y":0.130},{"s":"500","t":175,"y":0.133},{"s":"500","t":180,"y":0.135},{"s":"500","t":185,"y":0.138},{"s":"500","t":190,"y":0.141},{"s":"500","t":195,"y":0.143},{"s":"500","t":200,"y":0.146},
{"s":"1000","t":0,"y":0.075},{"s":"1000","t":5,"y":0.116},{"s":"1000","t":10,"y":0.154},{"s":"1000","t":15,"y":0.191},{"s":"1000","t":20,"y":0.225},{"s":"1000","t":25,"y":0.258},{"s":"1000","t":30,"y":0.289},{"s":"1000","t":35,"y":0.318},{"s":"1000","t":40,"y":0.346},{"s":"1000","t":45,"y":0.372},{"s":"1000","t":50,"y":0.397},{"s":"1000","t":55,"y":0.420},{"s":"1000","t":60,"y":0.442},{"s":"1000","t":65,"y":0.463},{"s":"1000","t":70,"y":0.483},{"s":"1000","t":75,"y":0.502},{"s":"1000","t":80,"y":0.520},{"s":"1000","t":85,"y":0.536},{"s":"1000","t":90,"y":0.552},{"s":"1000","t":95,"y":0.567},{"s":"1000","t":100,"y":0.581},{"s":"1000","t":105,"y":0.595},{"s":"1000","t":110,"y":0.608},{"s":"1000","t":115,"y":0.620},{"s":"1000","t":120,"y":0.631},{"s":"1000","t":125,"y":0.642},{"s":"1000","t":130,"y":0.652},{"s":"1000","t":135,"y":0.662},{"s":"1000","t":140,"y":0.671},{"s":"1000","t":145,"y":0.679},{"s":"1000","t":150,"y":0.687},{"s":"1000","t":155,"y":0.695},{"s":"1000","t":160,"y":0.702},{"s":"1000","t":165,"y":0.709},{"s":"1000","t":170,"y":0.716},{"s":"1000","t":175,"y":0.722},{"s":"1000","t":180,"y":0.728},{"s":"1000","t":185,"y":0.733},{"s":"1000","t":190,"y":0.739},{"s":"1000","t":195,"y":0.744},{"s":"1000","t":200,"y":0.748},
{"s":"1500","t":0,"y":0.145},{"s":"1500","t":5,"y":0.201},{"s":"1500","t":10,"y":0.253},{"s":"1500","t":15,"y":0.301},{"s":"1500","t":20,"y":0.345},{"s":"1500","t":25,"y":0.386},{"s":"1500","t":30,"y":0.424},{"s":"1500","t":35,"y":0.459},{"s":"1500","t":40,"y":0.492},{"s":"1500","t":45,"y":0.522},{"s":"1500","t":50,"y":0.550},{"s":"1500","t":55,"y":0.576},{"s":"1500","t":60,"y":0.600},{"s":"1500","t":65,"y":0.622},{"s":"1500","t":70,"y":0.643},{"s":"1500","t":75,"y":0.662},{"s":"1500","t":80,"y":0.679},{"s":"1500","t":85,"y":0.696},{"s":"1500","t":90,"y":0.711},{"s":"1500","t":95,"y":0.725},{"s":"1500","t":100,"y":0.738},{"s":"1500","t":105,"y":0.750},{"s":"1500","t":110,"y":0.761},{"s":"1500","t":115,"y":0.771},{"s":"1500","t":120,"y":0.781},{"s":"1500","t":125,"y":0.790},{"s":"1500","t":130,"y":0.798},{"s":"1500","t":135,"y":0.805},{"s":"1500","t":140,"y":0.812},{"s":"1500","t":145,"y":0.819},{"s":"1500","t":150,"y":0.825}
]
},
"concat":[
{"width":148,"height":108,"title":{"text":"(a) VH→V+H, EAM1","dx":-12},"data":{"name":"a"},
"encoding":{"x":{"field":"t","type":"quantitative","scale":{"domain":[0,200],"nice":false},"axis":{"values":[0,50,100,150,200],"title":"t/ps"}},"y":{"field":"y","type":"quantitative","scale":{"domain":[0,1.03],"nice":false,"zero":false},"axis":{"values":[0,0.2,0.4,0.6,0.8,1],"title":"y","labelExpr":"datum.value == 0 ? '0' : format(datum.value, '.1f')"}}},
"layer":[
{"mark":{"type":"point","filled":true,"size":7,"opacity":1},"encoding":{"color":{"field":"s","type":"nominal","scale":{"domain":["2250","2500","2600","2800"],"range":["#000000","#ff0000","#0000ff","#ff00ff"]},"legend":{"orient":"none","legendX":3,"legendY":78,"title":null,"labelExpr":"datum.label + ' K MD'","labelFontSize":5,"rowPadding":2,"symbolSize":7}},"shape":{"field":"s","type":"nominal","scale":{"domain":["2250","2500","2600","2800"],"range":["square","circle","triangle-up","triangle-down"]},"legend":{"orient":"none","legendX":3,"legendY":78,"title":null,"labelExpr":"datum.label + ' K MD'","labelFontSize":5,"rowPadding":2,"symbolSize":7}}}},
{"mark":{"type":"line","strokeWidth":1,"strokeOpacity":0.75,"interpolate":"monotone"},"encoding":{"stroke":{"field":"s","type":"nominal","scale":{"domain":["2800","2600","2500","2250"],"range":["#ff00ff","#0000ff","#ff0000","#000000"]},"legend":{"values":["2250","2500","2600","2800"],"orient":"none","legendX":38,"legendY":78,"title":null,"labelExpr":"datum.label + ' K Fit'","labelFontSize":5,"rowPadding":2,"symbolType":"M-2,0H2","symbolSize":25,"symbolStrokeWidth":1}}}}
]},
{"width":148,"height":108,"title":{"text":"(b) VH₂→VH+H, EAM1","dx":-6.5},"data":{"name":"b"},
"encoding":{"x":{"field":"t","type":"quantitative","scale":{"domain":[0,200],"nice":false},"axis":{"values":[0,50,100,150,200],"title":"t/ps"}},"y":{"field":"y","type":"quantitative","scale":{"domain":[0,1.1],"nice":false,"zero":false},"axis":{"values":[0,0.2,0.4,0.6,0.8,1],"title":"y","labelExpr":"datum.value == 0 ? '0' : format(datum.value, '.1f')"}}},
"layer":[
{"mark":{"type":"point","filled":true,"size":7,"opacity":1},"encoding":{"color":{"field":"s","type":"nominal","scale":{"domain":["1500","2000","2500"],"range":["#000000","#ff0000","#0000ff"]},"legend":{"orient":"none","legendX":60,"legendY":78,"title":null,"labelExpr":"datum.label + ' K MD'","labelFontSize":4.5,"rowPadding":0,"symbolSize":6}},"shape":{"field":"s","type":"nominal","scale":{"domain":["1500","2000","2500"],"range":["square","circle","triangle-up"]},"legend":{"orient":"none","legendX":60,"legendY":78,"title":null,"labelExpr":"datum.label + ' K MD'","labelFontSize":4.5,"rowPadding":0,"symbolSize":6}}}},
{"mark":{"type":"line","strokeWidth":1,"strokeOpacity":0.8,"interpolate":"monotone"},"encoding":{"stroke":{"field":"s","type":"nominal","scale":{"domain":["2500","2000","1500"],"range":["#0000ff","#ff0000","#000000"]},"legend":{"values":["1500","2000","2500"],"orient":"none","legendX":100,"legendY":78,"title":null,"labelExpr":"datum.label + ' K Fit'","labelFontSize":4.5,"rowPadding":0,"symbolType":"M-2,0H2","symbolSize":20,"symbolStrokeWidth":1}}}}
]},
{"width":148,"height":108,"title":{"text":"(c) VH₃→VH₂+H, EAM1","dx":-9.5},"data":{"name":"c"},
"encoding":{"x":{"field":"t","type":"quantitative","scale":{"domain":[0,200],"nice":false},"axis":{"values":[0,50,100,150,200],"title":"t/ps"}},"y":{"field":"y","type":"quantitative","scale":{"domain":[0,1.1],"nice":false,"zero":false},"axis":{"values":[0,0.2,0.4,0.6,0.8,1],"title":"y","labelExpr":"datum.value == 0 ? '0' : format(datum.value, '.1f')"}}},
"layer":[
{"mark":{"type":"point","filled":true,"size":7,"opacity":1},"encoding":{"color":{"field":"s","type":"nominal","scale":{"domain":["1000","1500","1750","2000"],"range":["#000000","#ff0000","#0000ff","#ff00ff"]},"legend":{"orient":"none","legendX":56,"legendY":21,"title":null,"labelExpr":"datum.label + ' K MD'","labelFontSize":4.5,"rowPadding":0,"symbolSize":6}},"shape":{"field":"s","type":"nominal","scale":{"domain":["1000","1500","1750","2000"],"range":["square","circle","triangle-up","triangle-down"]},"legend":{"orient":"none","legendX":56,"legendY":21,"title":null,"labelExpr":"datum.label + ' K MD'","labelFontSize":4.5,"rowPadding":0,"symbolSize":6}}}},
{"mark":{"type":"line","strokeWidth":1,"strokeOpacity":0.75,"interpolate":"monotone"},"encoding":{"stroke":{"field":"s","type":"nominal","scale":{"domain":["2000","1750","1500","1000"],"range":["#ff00ff","#0000ff","#ff0000","#000000"]},"legend":{"values":["1000","1500","1750","2000"],"orient":"none","legendX":96,"legendY":21,"title":null,"labelExpr":"datum.label + ' K Fit'","labelFontSize":4.5,"rowPadding":0,"symbolType":"M-2,0H2","symbolSize":20,"symbolStrokeWidth":1}}}}
]},
{"width":148,"height":108,"title":{"text":"(d) VH₄→VH₃+H, EAM1","dx":-11.5},"data":{"name":"d"},
"encoding":{"x":{"field":"t","type":"quantitative","scale":{"domain":[0,200],"nice":false},"axis":{"values":[0,50,100,150,200],"title":"t/ps"}},"y":{"field":"y","type":"quantitative","scale":{"domain":[-0.08,1.1],"nice":false,"zero":false},"axis":{"values":[0,0.2,0.4,0.6,0.8,1],"title":"y","labelExpr":"datum.value == 0 ? '0' : format(datum.value, '.1f')"}}},
"layer":[
{"mark":{"type":"point","filled":true,"size":7,"opacity":1},"encoding":{"color":{"field":"s","type":"nominal","scale":{"domain":["1000","1250","1500","1750"],"range":["#000000","#ff0000","#0000ff","#ff00ff"]},"legend":{"orient":"none","legendX":58,"legendY":52,"title":null,"labelExpr":"datum.label + ' K MD'","labelFontSize":4.5,"rowPadding":0,"symbolSize":6}},"shape":{"field":"s","type":"nominal","scale":{"domain":["1000","1250","1500","1750"],"range":["square","circle","triangle-up","triangle-down"]},"legend":{"orient":"none","legendX":58,"legendY":52,"title":null,"labelExpr":"datum.label + ' K MD'","labelFontSize":4.5,"rowPadding":0,"symbolSize":6}}}},
{"mark":{"type":"line","strokeWidth":1,"strokeOpacity":0.8,"interpolate":"monotone"},"encoding":{"stroke":{"field":"s","type":"nominal","scale":{"domain":["1750","1500","1250","1000"],"range":["#ff00ff","#0000ff","#ff0000","#000000"]},"legend":{"values":["1000","1250","1500","1750"],"orient":"none","legendX":98,"legendY":52,"title":null,"labelExpr":"datum.label + ' K Fit'","labelFontSize":4.5,"rowPadding":0,"symbolType":"M-2,0H2","symbolSize":20,"symbolStrokeWidth":1}}}}
]},
{"width":148,"height":108,"title":{"text":"(e) VH₅→VH₄+H, EAM1","dx":-11.5},"data":{"name":"e"},
"encoding":{"x":{"field":"t","type":"quantitative","scale":{"domain":[0,200],"nice":false},"axis":{"values":[0,50,100,150,200],"title":"t/ps"}},"y":{"field":"y","type":"quantitative","scale":{"domain":[-0.08,1.1],"nice":false,"zero":false},"axis":{"values":[0,0.2,0.4,0.6,0.8,1],"title":"y","labelExpr":"datum.value == 0 ? '0' : format(datum.value, '.1f')"}}},
"layer":[
{"mark":{"type":"point","filled":true,"size":7,"opacity":1},"encoding":{"color":{"field":"s","type":"nominal","scale":{"domain":["500","1000","1500"],"range":["#000000","#ff0000","#0000ff"]},"legend":{"orient":"none","legendX":61,"legendY":58,"title":null,"labelExpr":"datum.label + ' K MD'","labelFontSize":5,"rowPadding":0.5,"symbolSize":6}},"shape":{"field":"s","type":"nominal","scale":{"domain":["500","1000","1500"],"range":["square","circle","triangle-up"]},"legend":{"orient":"none","legendX":61,"legendY":58,"title":null,"labelExpr":"datum.label + ' K MD'","labelFontSize":5,"rowPadding":0.5,"symbolSize":6}}}},
{"mark":{"type":"line","strokeWidth":1,"strokeOpacity":0.8,"interpolate":"monotone"},"encoding":{"stroke":{"field":"s","type":"nominal","scale":{"domain":["1500","1000","500"],"range":["#0000ff","#ff0000","#000000"]},"legend":{"values":["500","1000","1500"],"orient":"none","legendX":100,"legendY":58,"title":null,"labelExpr":"datum.label + ' K Fit'","labelFontSize":5,"rowPadding":0.5,"symbolType":"M-2,0H2","symbolSize":25,"symbolStrokeWidth":1}}}}
]},
{"width":148,"height":108,"title":{"text":"(f) VH₆→VH₅+H, EAM1","dx":-7.5},"data":{"name":"f"},
"encoding":{"x":{"field":"t","type":"quantitative","scale":{"domain":[0,200],"nice":false},"axis":{"values":[0,50,100,150,200],"title":"t/ps"}},"y":{"field":"y","type":"quantitative","scale":{"domain":[-0.07,1.0],"nice":false,"zero":false},"axis":{"values":[0,0.2,0.4,0.6,0.8,1],"title":"y","labelExpr":"datum.value == 0 ? '0' : format(datum.value, '.1f')"}}},
"layer":[
{"mark":{"type":"point","filled":true,"size":7,"opacity":1},"encoding":{"color":{"field":"s","type":"nominal","scale":{"domain":["700","800","900","1000"],"range":["#000000","#ff0000","#0000ff","#ff00ff"]},"legend":{"orient":"none","legendX":53,"legendY":11,"title":null,"labelExpr":"datum.label + ' K MD'","labelFontSize":4.5,"rowPadding":0,"symbolSize":6}},"shape":{"field":"s","type":"nominal","scale":{"domain":["700","800","900","1000"],"range":["square","circle","triangle-up","triangle-down"]},"legend":{"orient":"none","legendX":53,"legendY":11,"title":null,"labelExpr":"datum.label + ' K MD'","labelFontSize":4.5,"rowPadding":0,"symbolSize":6}}}},
{"mark":{"type":"line","strokeWidth":1,"strokeOpacity":0.8,"interpolate":"monotone"},"encoding":{"stroke":{"field":"s","type":"nominal","scale":{"domain":["1000","900","800","700"],"range":["#ff00ff","#0000ff","#ff0000","#000000"]},"legend":{"values":["700","800","900","1000"],"orient":"none","legendX":98,"legendY":11,"title":null,"labelExpr":"datum.label + ' K Fit'","labelFontSize":4.5,"rowPadding":0,"symbolType":"M-2,0H2","symbolSize":20,"symbolStrokeWidth":1}}}}
]},
{"width":148,"height":108,"title":{"text":"(g) V+H→VH, EAM1","dx":-10.5},"data":{"name":"g"},
"encoding":{"x":{"field":"t","type":"quantitative","scale":{"domain":[0,200],"nice":false},"axis":{"values":[0,50,100,150,200],"title":"t/ps"}},"y":{"field":"y","type":"quantitative","scale":{"domain":[0,1.1],"nice":false,"zero":false},"axis":{"values":[0,0.2,0.4,0.6,0.8,1],"title":"y","labelExpr":"datum.value == 0 ? '0' : format(datum.value, '.1f')"}}},
"layer":[
{"mark":{"type":"point","filled":true,"size":7,"opacity":1},"encoding":{"color":{"field":"s","type":"nominal","scale":{"domain":["500","1000","1250","1500","1800"],"range":["#000000","#ff0000","#0000ff","#ff00ff","#00a000"]},"legend":{"orient":"none","legendX":60,"legendY":63,"title":null,"labelExpr":"datum.label + ' K MD'","labelFontSize":5,"rowPadding":1,"symbolSize":6}},"shape":{"field":"s","type":"nominal","scale":{"domain":["500","1000","1250","1500","1800"],"range":["square","circle","triangle-up","triangle-down","diamond"]},"legend":{"orient":"none","legendX":60,"legendY":63,"title":null,"labelExpr":"datum.label + ' K MD'","labelFontSize":5,"rowPadding":1,"symbolSize":6}}}},
{"mark":{"type":"line","strokeWidth":1,"strokeOpacity":0.8,"interpolate":"monotone"},"encoding":{"stroke":{"field":"s","type":"nominal","scale":{"domain":["1800","1500","1250","1000","500"],"range":["#00a000","#ff00ff","#0000ff","#ff0000","#000000"]},"legend":{"values":["500","1000","1250","1500","1800"],"orient":"none","legendX":98,"legendY":63,"title":null,"labelExpr":"datum.label + ' K Fit'","labelFontSize":5,"rowPadding":1,"symbolType":"M-2,0H2","symbolSize":25,"symbolStrokeWidth":1}}}}
]},
{"width":148,"height":108,"title":{"text":"(h) VH+H→VH₂, EAM1","dx":-8},"data":{"name":"h"},
"encoding":{"x":{"field":"t","type":"quantitative","scale":{"domain":[0,200],"nice":false},"axis":{"values":[0,50,100,150,200],"title":"t/ps"}},"y":{"field":"y","type":"quantitative","scale":{"domain":[0,1.0],"nice":false,"zero":false},"axis":{"values":[0,0.2,0.4,0.6,0.8,1],"title":"y","labelExpr":"datum.value == 0 ? '0' : format(datum.value, '.1f')"}}},
"layer":[
{"mark":{"type":"point","filled":true,"size":7,"opacity":1},"encoding":{"color":{"field":"s","type":"nominal","scale":{"domain":["500","1000","1500"],"range":["#000000","#ff0000","#0000ff"]},"legend":{"orient":"none","legendX":60,"legendY":66,"title":null,"labelExpr":"datum.label + ' K MD'","labelFontSize":5,"rowPadding":1.5,"symbolSize":6}},"shape":{"field":"s","type":"nominal","scale":{"domain":["500","1000","1500"],"range":["square","circle","triangle-up"]},"legend":{"orient":"none","legendX":60,"legendY":66,"title":null,"labelExpr":"datum.label + ' K MD'","labelFontSize":5,"rowPadding":1.5,"symbolSize":6}}}},
{"mark":{"type":"line","strokeWidth":1,"strokeOpacity":0.8,"interpolate":"monotone"},"encoding":{"stroke":{"field":"s","type":"nominal","scale":{"domain":["1500","1000","500"],"range":["#0000ff","#ff0000","#000000"]},"legend":{"values":["500","1000","1500"],"orient":"none","legendX":98,"legendY":66,"title":null,"labelExpr":"datum.label + ' K Fit'","labelFontSize":5,"rowPadding":1.5,"symbolType":"M-2,0H2","symbolSize":25,"symbolStrokeWidth":1}}}}
]}
]
}
